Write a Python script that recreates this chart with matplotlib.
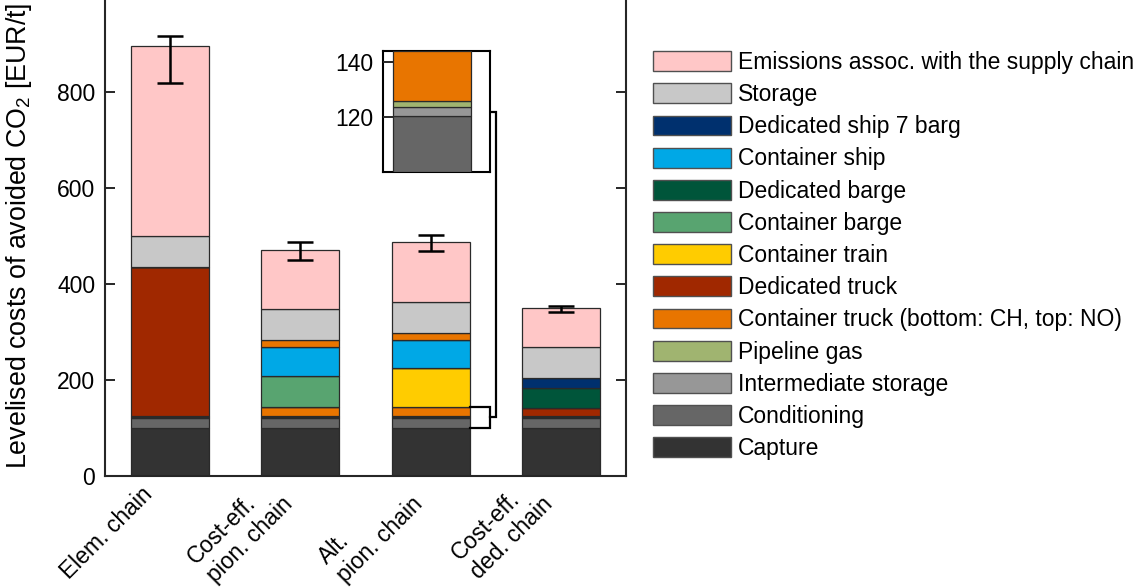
import numpy as np
import matplotlib as mpl
mpl.use('Agg')
import matplotlib.pyplot as plt
import matplotlib.transforms as transforms
from matplotlib.patches import Patch

mpl.rc('font', family=['Liberation Sans', 'DejaVu Sans'], size=16.5)
mpl.rc('mathtext', fontset='custom', rm='Liberation Sans', it='Liberation Sans:italic')

# chains (x categories)
chains = ["Elem. chain", "Cost-eff.\npion. chain", "Alt.\npion. chain", "Cost-eff.\nded. chain"]

# stacked components, bottom -> top  [EUR/t]
capture        = [100, 100, 100, 100]
conditioning   = [20.5, 20.5, 20.5, 20.5]
interm_storage = [3.3, 3.3, 3.3, 3.3]
pipeline_gas   = [2.2, 2.2, 2.2, 2.2]
truck_ch       = [0, 18, 18, 0]       # container truck, bottom (CH)
ded_truck      = [309, 0, 0, 16]
cont_train     = [0, 0, 82, 0]
cont_barge     = [0, 65, 0, 0]
ded_barge      = [0, 0, 0, 41]
cont_ship      = [0, 60, 57, 0]
ded_ship       = [0, 0, 0, 22]
truck_no       = [0, 14, 14, 0]       # container truck, top (NO)
storage        = [65, 64, 65, 63]
emissions      = [396, 124, 125.5, 83]

err_low  = [819, 449, 469, 342]
err_high = [917, 488, 502, 354]

col = {
    "Emissions assoc. with the supply chain": "#FFC7C7",
    "Storage": "#C8C8C8",
    "Dedicated ship 7 barg": "#00306E",
    "Container ship": "#00A8E6",
    "Dedicated barge": "#00553A",
    "Container barge": "#58A470",
    "Container train": "#FFCC00",
    "Dedicated truck": "#A02800",
    "Container truck (bottom: CH, top: NO)": "#E87500",
    "Pipeline gas": "#A0B470",
    "Intermediate storage": "#979797",
    "Conditioning": "#666666",
    "Capture": "#333333",
}

stack = [
    (capture, "Capture"),
    (conditioning, "Conditioning"),
    (interm_storage, "Intermediate storage"),
    (pipeline_gas, "Pipeline gas"),
    (truck_ch, "Container truck (bottom: CH, top: NO)"),
    (ded_truck, "Dedicated truck"),
    (cont_train, "Container train"),
    (cont_barge, "Container barge"),
    (ded_barge, "Dedicated barge"),
    (cont_ship, "Container ship"),
    (ded_ship, "Dedicated ship 7 barg"),
    (truck_no, "Container truck (bottom: CH, top: NO)"),
    (storage, "Storage"),
    (emissions, "Emissions assoc. with the supply chain"),
]

W, H = 1141, 588
fig = plt.figure(figsize=(W / 100, H / 100), dpi=100)

# main axes (top of axes sits just above the figure edge)
ax = fig.add_axes([105 / W, (H - 476) / H, 521 / W, 480 / H])
x = np.arange(1, len(chains) + 1)
bw = 0.6
edge = "#2a2a2a"

bottom = np.zeros(len(chains))
for vals, name in stack:
    v = np.array(vals, dtype=float)
    ax.bar(x, v, bw, bottom=bottom, color=col[name], edgecolor=edge, linewidth=0.9, zorder=2)
    bottom += v
total = bottom.copy()

yerr = np.array([total - np.array(err_low), np.array(err_high) - total])
ax.errorbar(x, total, yerr=yerr, fmt="none", ecolor="black", elinewidth=1.8,
            capsize=9.4, capthick=1.8, zorder=4)

ax.set_xlim(0.5, 4.5)
ax.set_ylim(0, 1000)
ax.set_yticks([0, 200, 400, 600, 800])
ax.set_xticks(x)
ax.set_xticklabels([])
ax.tick_params(axis="x", length=0, pad=0)
ax.tick_params(axis="y", direction="in", length=7, width=1.4, right=True, pad=7,
               color="#262626")

# rotated category labels
lbl_tr = transforms.blended_transform_factory(ax.transData, ax.transAxes) + \
    transforms.ScaledTranslation(-21 / 100, -15 / 100, fig.dpi_scale_trans)
for xi, name in zip(x, chains):
    ax.text(xi, 0, name, transform=lbl_tr, rotation=45, ha="right", va="center",
            rotation_mode="anchor", multialignment="left")

for s in ["left", "right", "bottom"]:
    ax.spines[s].set_linewidth(1.5)
    ax.spines[s].set_color("#262626")
ax.spines["top"].set_visible(False)
ax.set_ylabel("Levelised costs of avoided CO$_\\mathregular{2}$ [EUR/t]", fontsize=19.3)
ax.yaxis.set_label_coords(-0.136, 0.5)

# inset: zoom on the bottom of the alternative pioneering chain
i3 = 2
inset_top = capture[i3] + conditioning[i3] + interm_storage[i3] + pipeline_gas[i3] + truck_ch[i3]
axi = fig.add_axes([383 / W, (H - 172) / H, 107 / W, 121 / H])
b = 0.0
for vals, name in stack[:5]:
    axi.bar(0, vals[i3], bw, bottom=b, color=col[name], edgecolor=edge, linewidth=0.9, zorder=3)
    b += vals[i3]
axi.set_xlim(-0.377, 0.446)
axi.set_ylim(100, inset_top)
axi.set_xticks([])
axi.set_yticks([120, 140])
axi.tick_params(axis="y", direction="in", length=7, width=1.4, pad=7, color="#262626")
for s in axi.spines.values():
    s.set_linewidth(1.5)
    s.set_color("black")
    s.set_zorder(1)

# bracket around the zoomed part and connector to the inset
bx0 = 3 + bw / 2
bx1 = bx0 + 0.154
bx2 = bx1 + 0.051
ymid_inset = (476 - 111.5) / 0.48
ax.plot([bx0, bx1, bx1, bx0], [inset_top, inset_top, 100, 100], color="black",
        lw=1.6, zorder=5, solid_joinstyle="miter")
ax.plot([bx1, bx2, bx2, bx1], [(inset_top + 100) / 2, (inset_top + 100) / 2, ymid_inset, ymid_inset],
        color="black", lw=1.6, zorder=5, solid_joinstyle="miter", clip_on=False)

# legend, top entry first
names = list(col.keys())
handles = [Patch(facecolor=col[n], edgecolor="#505050", linewidth=1.0) for n in names]
fig.legend(handles, names, loc="upper left", bbox_to_anchor=(653 / W, 1 - 51 / H),
           frameon=False, borderpad=0, borderaxespad=0, handlelength=3.4,
           handleheight=0.95, handletextpad=0.3, labelspacing=0.4, fontsize=16.5)

fig.savefig("out.png", dpi=100)
